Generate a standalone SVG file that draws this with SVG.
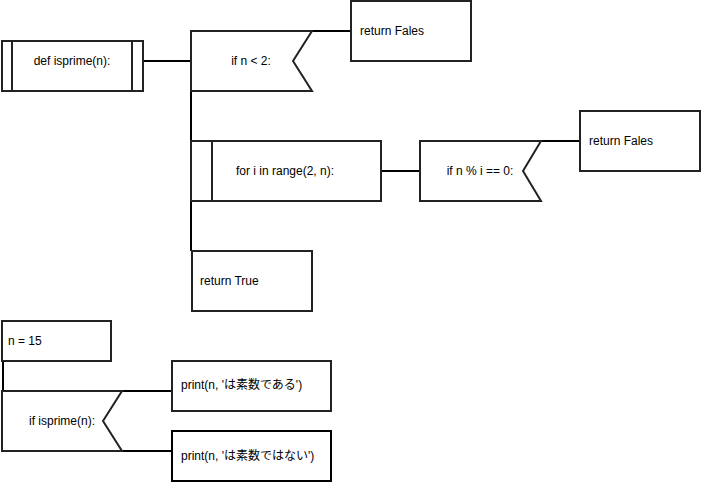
<svg xmlns="http://www.w3.org/2000/svg" width="701" height="482" viewBox="0 0 701 482">
<style>
.box{fill:#fff;stroke:#222;stroke-width:2}
.line{fill:none;stroke:#000;stroke-width:2}
text{font-family:"Liberation Sans",Arial,"Noto Sans CJK JP",sans-serif;font-size:12px;fill:#000;dominant-baseline:central}
.c{text-anchor:middle}
</style>
<rect width="701" height="482" fill="#fff"/>
<g id="connectors">
<line class="line" x1="143" y1="61" x2="191" y2="61"/>
<line class="line" x1="191" y1="31" x2="191" y2="251"/>
<line class="line" x1="312" y1="31" x2="351" y2="31"/>
<line class="line" x1="381" y1="171" x2="420" y2="171"/>
<line class="line" x1="541" y1="141" x2="580" y2="141"/>
<line class="line" x1="3" y1="361" x2="3" y2="391"/>
<line class="line" x1="122" y1="391" x2="172" y2="391"/>
<line class="line" x1="122" y1="451" x2="172" y2="451"/>
</g>
<g id="def">
<rect class="box" x="2" y="41" width="141" height="50"/>
<line class="box" x1="12" y1="41" x2="12" y2="91"/>
<line class="box" x1="132" y1="41" x2="132" y2="91"/>
<text class="c" x="72" y="61">def isprime(n):</text>
</g>
<g id="if1">
<path class="box" d="M191 31 H312 L293 61 L312 91 H191 Z"/>
<text class="c" x="251" y="61">if n &lt; 2:</text>
</g>
<g id="ret1">
<rect class="box" x="351" y="1" width="120" height="60"/>
<text x="360" y="31">return Fales</text>
</g>
<g id="for">
<rect class="box" x="191" y="141" width="190" height="60"/>
<line class="box" x1="212" y1="140" x2="212" y2="201"/>
<text class="c" x="285" y="171">for i in range(2, n):</text>
</g>
<g id="if2">
<path class="box" d="M420 141 H541 L523 171 L541 201 H420 Z"/>
<text class="c" x="480" y="171">if n % i == 0:</text>
</g>
<g id="ret2">
<rect class="box" x="580" y="111" width="120" height="60"/>
<text x="589" y="141">return Fales</text>
</g>
<g id="retTrue">
<rect class="box" x="192" y="251" width="120" height="60"/>
<text x="200" y="281">return True</text>
</g>
<g id="n15">
<rect class="box" x="2" y="321" width="109" height="40"/>
<text x="8" y="341">n = 15</text>
</g>
<g id="if3">
<path class="box" d="M2 391 H122 L103 421 L122 451 H2 Z"/>
<text class="c" x="62" y="421">if isprime(n):</text>
</g>
<g id="print1">
<rect class="box" x="172" y="361" width="159" height="50"/>
<text x="181" y="385">print(n, 'は素数である')</text>
</g>
<g id="print2">
<rect class="box" x="172" y="431" width="159" height="50" style="stroke:#000"/>
<text x="181" y="456">print(n, 'は素数ではない')</text>
</g>
</svg>
